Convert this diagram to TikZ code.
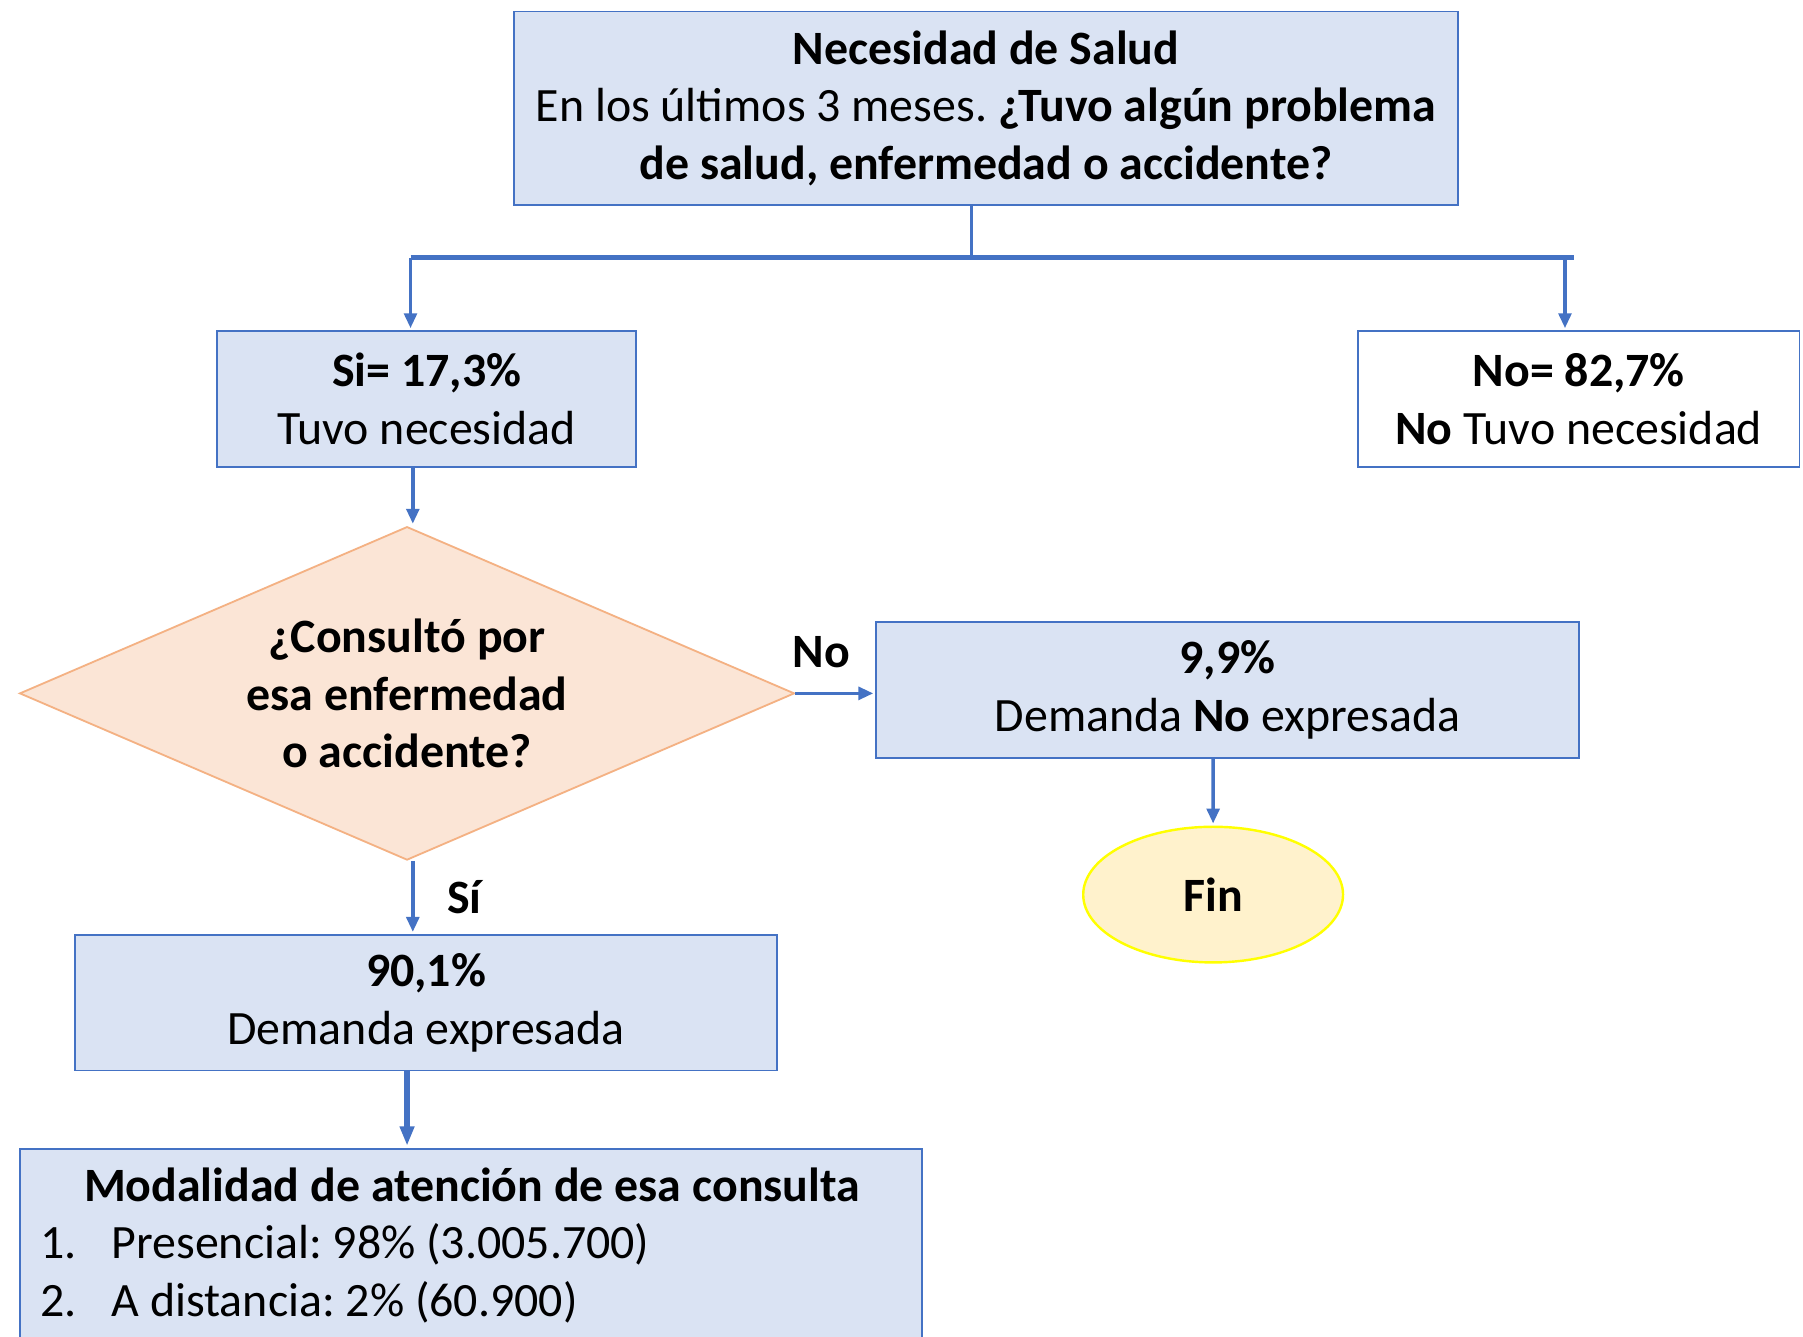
\documentclass[tikz,border=0pt]{standalone}
\usepackage{fontspec}
\setmainfont{Carlito}
\usetikzlibrary{shapes.geometric, arrows.meta, positioning}
\definecolor{boxfill}{HTML}{DAE3F3}
\definecolor{boxline}{HTML}{4472C4}
\definecolor{diafill}{HTML}{FBE5D6}
\definecolor{dialine}{HTML}{F4B183}
\definecolor{endfill}{HTML}{FFF2CC}
\definecolor{endline}{HTML}{FFFF00}
\frenchspacing

\begin{document}
\begin{tikzpicture}[
        x=0.02cm, y=-0.02cm,
        >={Triangle[length=0.26cm, width=0.22cm]},
        font=\fontsize{23.7}{28.45}\selectfont,
        process/.style={
            rectangle,
            minimum height=2.36cm,
            align=center,
            draw=boxline,
            fill=boxfill,
            line width=0.9pt,
            inner sep=0pt
        },
        question/.style={
            diamond,
            aspect=2.32,
            minimum width=13.48cm,
            minimum height=5.8cm,
            inner sep=0pt,
            align=center,
            draw=dialine,
            fill=diafill,
            line width=0.9pt
        },
        terminal/.style={
            ellipse,
            minimum width=4.52cm,
            minimum height=2.36cm,
            draw=endline,
            fill=endfill,
            line width=1.2pt
        },
        arrow/.style={
            ->,
            line width=1.8pt,
            color=boxline,
            shorten >=1pt
        }
    ]

    \clip (0,0) rectangle (1568,1162);
    \fill[white] (0,0) rectangle (1568,1162);

    \node (need) [process, minimum width=16.42cm, minimum height=3.36cm] at (857.5,94)
        {\textbf{Necesidad de Salud} \\ En los últimos 3 meses. \textbf{¿Tuvo algún problema} \\ \textbf{de salud, enfermedad o accidente?}};

    \node (yes) [process, minimum width=7.28cm] at (371,347) {\textbf{Si= 17,3\%} \\ Tuvo necesidad};

    \node (no) [process, fill=white, minimum width=7.68cm] at (1373,347) {\textbf{No= 82,7\%} \\ \textbf{No} Tuvo necesidad};

    \node (consult) [question] at (354,603) {\textbf{¿Consultó por} \\ \textbf{esa enfermedad} \\ \textbf{o accidente?}};

    \node (unmet) [process, minimum width=12.22cm] at (1067.5,600) {\textbf{9,9\%} \\ Demanda \textbf{No} expresada};

    \node (fin) [terminal] at (1055,778) {\textbf{Fin}};

    \node (met) [process, minimum width=12.22cm] at (370.5,872) {\textbf{90,1\%} \\ Demanda expresada};

    \node (mode) [process, minimum width=15.7cm, minimum height=3.36cm, text width=14.98cm, align=flush left] at (409.5,1083)
        {\hspace*{0.76cm}\textbf{Modalidad de atención de esa consulta} \\
         \makebox[1.24cm][l]{1.}Presencial: 98\% (3.005.700) \\
         \makebox[1.24cm][l]{2.}A distancia: 2\% (60.900)};

    % branch under the question
    \coordinate (split) at (845,224);
    \coordinate (lend) at (357,224);
    \coordinate (rend) at (1369,224);
    \coordinate (rdrop) at (1361,224);

    \draw [boxline, line width=1.8pt] (need.south -| split) -- (split);
    \draw [boxline, line width=2.4pt] (lend) -- (rend);
    \draw [arrow] (lend) -- (lend |- yes.north);
    \draw [arrow] (rdrop) -- (rdrop |- no.north);

    \draw [arrow] ([xshift=-0.24cm]yes.south) -- ([xshift=-0.24cm]yes.south |- consult.north);

    \draw [arrow] (consult.east) -- node[midway, above=0.3cm, xshift=-0.24cm, text=black] {\textbf{No}} (consult.east -| unmet.west);

    \draw [arrow] ([xshift=-0.25cm]unmet.south) -- (fin.north);

    \draw [arrow] ([xshift=0.1cm]consult.south) -- node[midway, right=0.45cm, text=black] {\textbf{Sí}} ([xshift=0.1cm]consult.south |- met.north);

    \draw [arrow, line width=2.6pt, >={Triangle[length=0.34cm, width=0.24cm]}] ([xshift=-0.33cm]met.south) -- ([xshift=-0.33cm]met.south |- mode.north);

\end{tikzpicture}
\end{document}
